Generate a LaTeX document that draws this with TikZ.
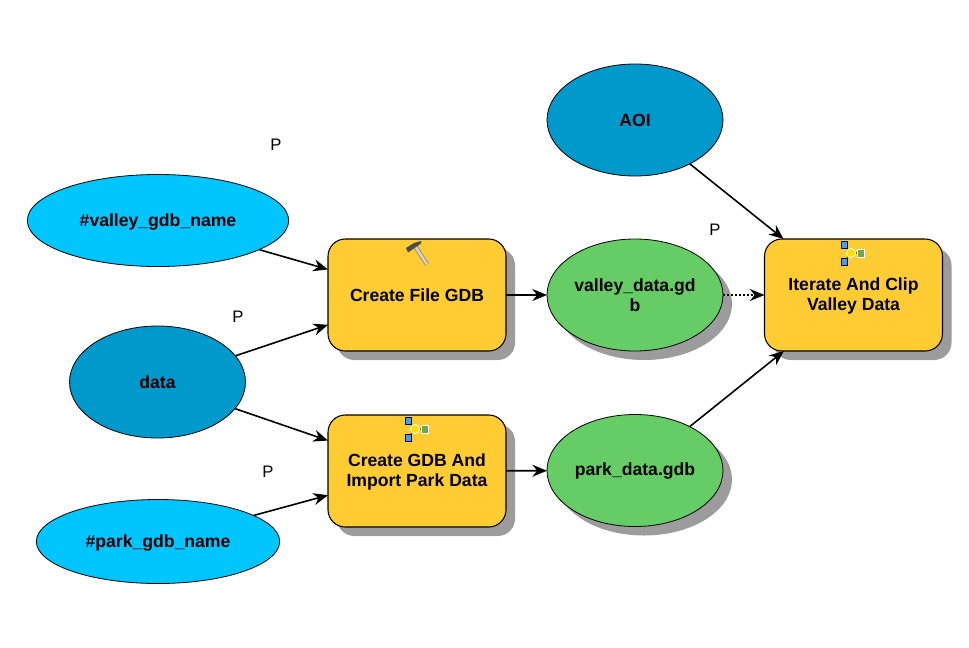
\documentclass[tikz,border=0pt]{standalone}
\usepackage{fontspec}
\setmainfont{Liberation Sans}
\usetikzlibrary{shapes.geometric,arrows.meta,shadows}
\definecolor{procfill}{HTML}{FFCC33}
\definecolor{derived}{HTML}{66CC66}
\definecolor{paramcyan}{HTML}{00C5FF}
\definecolor{parambold}{HTML}{0099CC}
\definecolor{shade}{HTML}{9C9C9C}
\definecolor{iconblue}{HTML}{4A9BE8}
\definecolor{iconyellow}{HTML}{FFE000}
\definecolor{icongreen}{HTML}{6FA84A}
\newcommand{\lowertext}[1]{\raisebox{-0.9pt}[\height][\depth]{#1}}
\tikzset{
  x=0.75pt,y=-0.75pt,
  every node/.style={font=\fontsize{13.2pt}{15pt}\selectfont\bfseries,align=center,inner sep=0pt,outer sep=0pt},
  dropgrey/.style={general shadow={shadow xshift=6.75pt,shadow yshift=-6.75pt,fill=shade}},
  procbox/.style={rectangle,rounded corners=13pt,draw=black,line width=0.8pt,fill=procfill,minimum width=133.5pt,minimum height=84pt,dropgrey},
  oval/.style={ellipse,draw=black,line width=0.6pt,minimum width=132pt,minimum height=84pt},
  outdata/.style={oval,fill=derived,dropgrey},
  inparam/.style={oval,fill=parambold},
  strparam/.style={ellipse,draw=black,line width=0.6pt,fill=paramcyan},
  flagtext/.style={font=\fontsize{12.5pt}{15pt}\selectfont},
  link/.style={draw=black,line width=1.2pt,-{Stealth[length=11pt,width=9pt]}},
  dottedlink/.style={link,dash pattern=on 1.5pt off 1.5pt},
  modelicon/.pic={
    \draw[line width=0.8pt,draw=black!60] (0,0) -- (7,8) -- (0,16.5);
    \draw[line width=0.8pt,draw=black!60] (7,8) -- (17,8);
    \filldraw[draw=black!50!blue,line width=0.4pt,fill=iconblue] (-3,-3.5) rectangle (3,3.5);
    \filldraw[draw=black!50!blue,line width=0.4pt,fill=iconblue] (-3,13) rectangle (3,20);
    \fill[white] (7,8) circle[radius=5];
    \fill[iconyellow] (7,8) circle[radius=4];
    \fill[white] (13,3.5) rectangle (21,12.5);
    \fill[icongreen] (14,4.5) rectangle (20,11.5);
  },
}
\begin{document}
\begin{tikzpicture}
\useasboundingbox (0,0) rectangle (969,647);
\fill[white] (0,0) rectangle (969,647);

\node[strparam,minimum width=196pt,minimum height=69pt] (valleyname) at (158,220.5) {\lowertext{\#valley\_gdb\_name}};
\node[inparam] (data) at (157.5,382) {data};
\node[strparam,minimum width=182.5pt,minimum height=63pt] (parkname) at (158,541.5) {\lowertext{\#park\_gdb\_name}};
\node[inparam] (aoi) at (635,120) {AOI};
\node[outdata] (valleydata) at (635,295) {valley\_data.gd\\b};
\node[outdata] (parkdata) at (635,470.5) {park\_data.gdb};
\node[procbox] (filegdb) at (417,295) {Create File GDB};
\node[procbox] (importgdb) at (417,471) {\lowertext{Create GDB And}\\\lowertext{Import Park Data}};
\node[procbox] (clip) at (853.5,295) {\lowertext{Iterate And Clip}\\\lowertext{Valley Data}};

\node[flagtext] (p1) at (276,145) {P};
\node[flagtext] (p2) at (238,317) {P};
\node[flagtext] (p3) at (268,472) {P};
\node[flagtext] (p4) at (715,230) {P};

\draw[link] (valleyname) -- (filegdb);
\draw[link] (data) -- (filegdb);
\draw[link] (data) -- (importgdb);
\draw[link] (parkname) -- (importgdb);
\draw[link] (filegdb) -- (valleydata);
\draw[link] (importgdb) -- (parkdata);
\draw[dottedlink] (valleydata) -- (clip);
\draw[link] (aoi) -- (clip);
\draw[link] (parkdata) -- (clip);

% hammer icon
\draw[line width=3.2pt,draw=black!45] (415,246) -- (427,264.5);
\draw[line width=1.8pt,draw=brown!35!white] (415,246) -- (427,264.5);
\fill[black!70] (406,248) -- (414,243) -- (421,241) -- (421,243.5) -- (416,247) -- (408,252.5) -- cycle;

\pic at (408,421) {modelicon};
\pic at (844,245) {modelicon};
\end{tikzpicture}
\end{document}
